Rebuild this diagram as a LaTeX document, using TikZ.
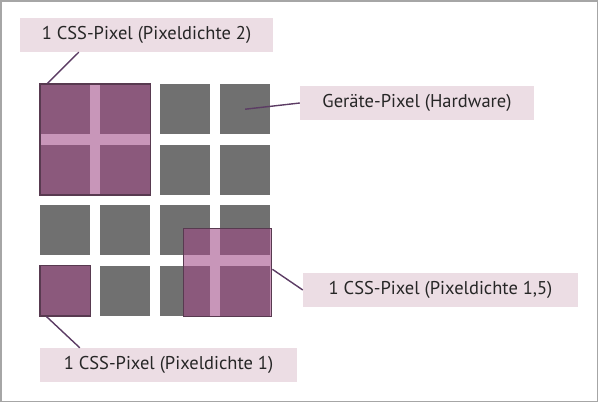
\documentclass[tikz,border=0pt]{standalone}
\usepackage{fontspec}
\setmainfont{PT Sans}
\usetikzlibrary{matrix}
\usetikzlibrary{fit}
\definecolor{pxgray}{RGB}{112,112,112}
\definecolor{csspurple}{RGB}{160,74,134}
\definecolor{cssedge}{RGB}{88,58,80}
\definecolor{tagpink}{RGB}{236,221,228}
\definecolor{linepurple}{RGB}{92,60,100}
\tikzset{dev/.style={rectangle, fill=pxgray, minimum size=50pt, inner sep=0pt}}
\tikzset{devgrid/.style = {
   matrix of nodes, nodes in empty cells,
   nodes=dev,
   column sep=10pt,
   row sep=10.5pt,
   inner sep=0pt
}}
\tikzset{css/.style={rectangle, fill=csspurple, fill opacity=0.58, draw=cssedge, draw opacity=1, line width=1.2pt, inner sep=0pt}}
\tikzset{tag/.style={rectangle, fill=tagpink, minimum height=34pt, text=black!85, font=\fontsize{18.5}{22}\selectfont}}
\tikzset{pointer/.style={draw=linepurple, line width=1.4pt}}

\begin{document}
\begin{tikzpicture}[x=1pt, y=-1pt]

    \useasboundingbox (0,0) rectangle (598,402);
    \draw[black!35, line width=1.5pt] (0.75,0.75) rectangle (597.25,401.25);

    \matrix[devgrid, anchor=north west] (m) at (40,84) {
      & & & \\
      & & & \\
      & & & \\
      & & & \\
    };

    \node[css, fit=(m-1-1)(m-2-2)] (px2) {};
    \node[css, minimum size=88pt, anchor=south east] (px15) at ([xshift=2pt, yshift=-1pt]m-4-4.south east) {};
    \node[css, fit=(m-4-1)] (px1) {};

    \node[tag, minimum width=253pt] (lab2) at (146.5,35) {1 CSS-Pixel (Pixeldichte 2)};
    \node[tag, minimum width=234pt] (labhw) at (417,103) {Geräte-Pixel (Hardware)};
    \node[tag, minimum width=275pt] (lab15) at (440.5,290) {1 CSS-Pixel (Pixeldichte 1,5)};
    \node[tag, minimum width=257pt] (lab1) at (168.5,365) {1 CSS-Pixel (Pixeldichte 1)};

    \draw[pointer] ([xshift=59pt]lab2.south west) -- ([xshift=8pt]px2.north west);
    \draw[pointer] (m-1-4.center) -- (labhw.west);
    \draw[pointer] ([yshift=3pt]px15.east) -- (lab15.west);
    \draw[pointer] ([xshift=7pt]px1.south west) -- ([xshift=40pt]lab1.north west);

  \end{tikzpicture}
\end{document}
